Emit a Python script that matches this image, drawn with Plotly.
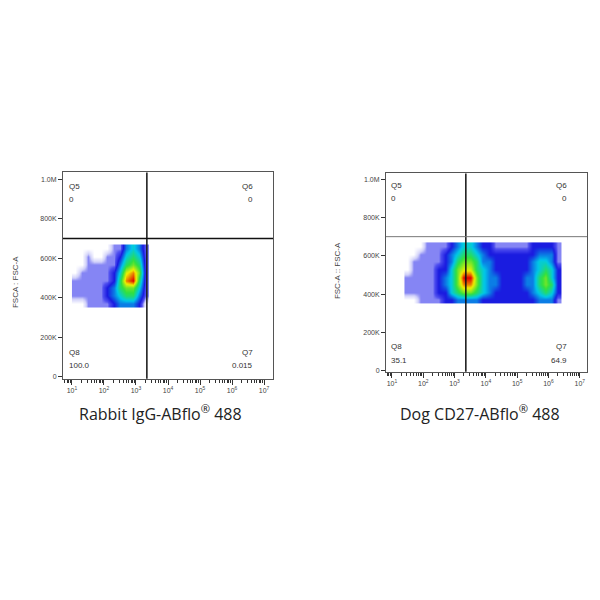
import numpy as np
import plotly.graph_objects as go

# ---- data (density, log10 fluorescence vs FSC-A in K) ----
left_x = [1.1, 1.3, 1.5, 1.7, 1.9, 2.1, 2.3, 2.5, 2.7, 2.9, 3.1, 3.3]
right_x = [1.5, 1.7, 1.9, 2.1, 2.3, 2.5, 2.7, 2.9, 3.1, 3.3, 3.5, 3.7, 3.9,
           4.1, 4.3, 4.5, 4.7, 4.9, 5.1, 5.3, 5.5, 5.7, 5.9, 6.1, 6.3]
fsc_y = [370, 410, 450, 490, 530, 570, 610, 650]

left_z = [
    [0, 0, 1, 1, 1, 1, 2, 3, 3, 3, 2, 0],
    [1, 1, 1, 1, 1, 2, 3, 4, 5, 5, 3, 1],
    [1, 1, 1, 1, 1, 2, 3, 5, 6, 6, 4, 1],
    [1, 1, 1, 1, 1, 1, 2, 5, 8, 9, 5, 1],
    [0, 1, 1, 1, 1, 1, 2, 4, 7, 8, 6, 1],
    [0, 0, 1, 1, 1, 1, 1, 3, 5, 6, 5, 1],
    [0, 0, 1, 0, 0, 1, 1, 2, 4, 5, 4, 1],
    [0, 0, 0, 0, 0, 0, 1, 1, 3, 4, 3, 1],
]
right_z = [
    [0, 0, 1, 1, 1, 1, 2, 2, 3, 3, 3, 3, 2, 2, 2, 2, 2, 2, 2, 2, 2, 3, 3, 3, 1],
    [1, 1, 1, 1, 1, 2, 2, 4, 5, 6, 6, 5, 4, 3, 2, 2, 2, 2, 2, 2, 3, 4, 5, 4, 2],
    [1, 1, 1, 1, 1, 2, 3, 4, 6, 8, 8, 6, 4, 3, 3, 2, 2, 2, 2, 3, 3, 5, 6, 5, 2],
    [1, 1, 1, 1, 1, 2, 3, 4, 6, 9, 9, 6, 4, 3, 3, 2, 2, 2, 2, 3, 3, 5, 6, 4, 2],
    [0, 1, 1, 1, 1, 2, 2, 4, 6, 7, 7, 5, 4, 3, 2, 2, 2, 2, 2, 2, 3, 4, 5, 4, 2],
    [0, 1, 1, 1, 1, 1, 2, 3, 5, 6, 6, 5, 3, 3, 2, 2, 2, 2, 2, 2, 3, 4, 4, 3, 1],
    [0, 0, 1, 1, 1, 1, 2, 3, 4, 5, 5, 4, 3, 2, 2, 2, 2, 2, 2, 2, 2, 3, 3, 3, 1],
    [0, 0, 0, 1, 1, 1, 1, 2, 3, 4, 4, 3, 2, 2, 1, 1, 1, 1, 1, 1, 2, 2, 2, 2, 1],
]
left_quads = ['Q5', '0', 'Q6', '0', 'Q8', '100.0', 'Q7', '0.015']
right_quads = ['Q5', '0', 'Q6', '0', 'Q8', '35.1', 'Q7', '64.9']
gate_x = [3.34, 3.36]
gate_y = 700

y_tickvals = [0, 200, 400, 600, 800, 1000]
y_ticktext = ['0', '200K', '400K', '600K', '800K', '1.0M']
x_tickvals = [1, 2, 3, 4, 5, 6, 7]
x_ticktext = ['10<sup>%d</sup>' % d for d in x_tickvals]
minor_vals = [d + np.log10(m) for d in range(0, 7) for m in range(2, 10)]

colorscale = [[0, '#ffffff'], [0.07, '#d0d0fa'], [0.14, '#5050f0'], [0.22, '#1a1ae0'],
              [0.42, '#00c8e8'], [0.6, '#30e040'], [0.8, '#f0f000'], [1, '#e00000']]

W = 592  # page body has an 8px margin


def px(p):
    return (p - 8) / W


def py(p):
    return 1 - (p - 8) / W


fig = go.Figure()
fig.add_trace(go.Heatmap(x=left_x, y=fsc_y, z=left_z, xaxis='x', yaxis='y', zsmooth='best',
                         colorscale=colorscale, zmin=0, zmax=9, showscale=False))
fig.add_trace(go.Heatmap(x=right_x, y=fsc_y, z=right_z, xaxis='x2', yaxis='y2', zsmooth='best',
                         colorscale=colorscale, zmin=0, zmax=9, showscale=False))

tickfont = dict(family='Arial, Liberation Sans', size=7, color='#444')
xcommon = dict(tickmode='array', tickvals=x_tickvals, ticktext=x_ticktext,
               ticks='outside', ticklen=5, tickcolor='#333', showline=True,
               linecolor='#555', mirror=True, showgrid=False, zeroline=False,
               tickfont=tickfont,
               minor=dict(tickmode='array', tickvals=minor_vals, ticks='outside',
                          ticklen=3, tickcolor='#333'))
ycommon = dict(tickmode='array', tickvals=y_tickvals, ticktext=y_ticktext,
               ticks='outside', ticklen=4, tickcolor='#333', showline=True,
               linecolor='#555', mirror=True, showgrid=False, zeroline=False,
               tickfont=tickfont)

fig.update_layout(
    width=W, height=W, margin=dict(l=0, r=0, t=0, b=0),
    plot_bgcolor='white', paper_bgcolor='white', showlegend=False,
    xaxis=dict(xcommon, domain=[px(63), px(273)], range=[0.72, 7.28], anchor='y'),
    yaxis=dict(ycommon, domain=[py(380), py(173)], range=[-10, 1035], anchor='x'),
    xaxis2=dict(xcommon, domain=[px(386), px(587)], range=[0.81, 7.23], anchor='y2'),
    yaxis2=dict(ycommon, domain=[py(373), py(174)], range=[-5, 1030], anchor='x2'),
)

# gates
for i, (xa, ya) in enumerate([('x', 'y'), ('x2', 'y2')]):
    fig.add_shape(type='line', xref=xa, yref=ya, x0=gate_x[i], x1=gate_x[i],
                  y0=-20, y1=1040, line=dict(color='#111', width=1.5))
    fig.add_shape(type='line', xref=xa, yref=ya, x0=0, x1=8, y0=gate_y, y1=gate_y,
                  line=dict(color='#111' if i == 0 else '#777', width=1.5 if i == 0 else 1))

qfont = dict(family='Arial, Liberation Sans', size=8, color='#333')
for xa, ya, labels, xl, xr in [('x', 'y', left_quads, 0.84, 6.72),
                               ('x2', 'y2', right_quads, 0.9, 6.65)]:
    pos = [(xl, 965, 'left'), (xl, 898, 'left'), (xr, 965, 'right'), (xr, 898, 'right'),
           (xl, 125, 'left'), (xl, 56, 'left'), (xr, 125, 'right'), (xr, 56, 'right')]
    for t, (qx, qy, anc) in zip(labels, pos):
        fig.add_annotation(x=qx, y=qy, xref=xa, yref=ya, text=t, showarrow=False,
                           xanchor=anc, yanchor='middle', font=qfont)

tfont = dict(family='Open Sans, Noto Sans', size=16, color='#222')
fig.add_annotation(x=px(160), y=py(414), xref='paper', yref='paper',
                   xanchor='center', yanchor='middle',
                   text='Rabbit IgG-ABflo<sup>®</sup> 488', showarrow=False, font=tfont)
fig.add_annotation(x=px(480), y=py(414), xref='paper', yref='paper',
                   xanchor='center', yanchor='middle',
                   text='Dog CD27-ABflo<sup>®</sup> 488', showarrow=False, font=tfont)
yfont = dict(family='Arial, Liberation Sans', size=8, color='#444')
fig.add_annotation(x=px(15), y=py(283), xref='paper', yref='paper',
                   xanchor='center', yanchor='middle',
                   text='FSCA : FSC-A', textangle=-90, showarrow=False, font=yfont)
fig.add_annotation(x=px(337), y=py(272), xref='paper', yref='paper',
                   xanchor='center', yanchor='middle',
                   text='FSC-A :: FSC-A', textangle=-90, showarrow=False, font=yfont)

fig.write_html('out.html')
